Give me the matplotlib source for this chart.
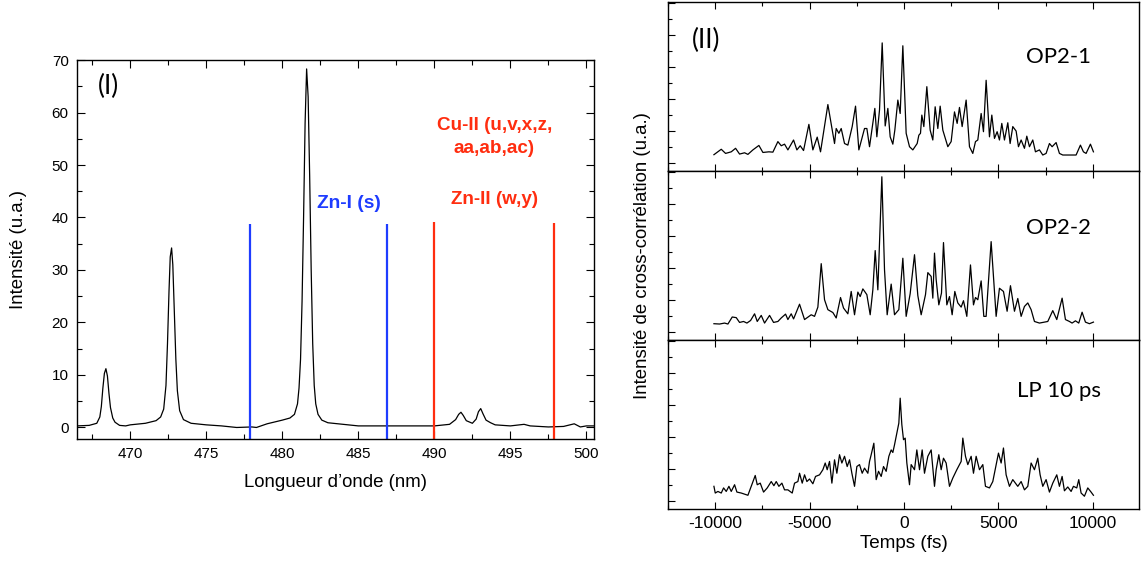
import numpy as np
import matplotlib
matplotlib.use("Agg")
import matplotlib.pyplot as plt
from matplotlib.ticker import MultipleLocator

plt.rcParams['font.family'] = ['Liberation Sans', 'DejaVu Sans']
plt.rcParams['axes.unicode_minus'] = False

# --- (I) emission spectrum ---
wl = [466.5, 467.3, 467.8, 468.0, 468.1, 468.2, 468.3, 468.4, 468.5, 468.6,
      468.7, 468.85, 469.0, 469.3, 469.7, 470.0, 471.0, 471.7, 472.0, 472.2,
      472.35, 472.45, 472.55, 472.63, 472.72, 472.8, 472.9, 473.0, 473.1, 473.25,
      473.5, 474.0, 475.0, 476.0, 477.0, 478.0, 478.3, 479.0, 480.0, 480.5,
      480.8, 481.0, 481.1, 481.2, 481.3, 481.4, 481.5, 481.6, 481.7, 481.8,
      481.9, 482.0, 482.1, 482.2, 482.35, 482.6, 483.0, 484.0, 485.0, 487.0,
      488.0, 490.0, 491.0, 491.4, 491.6, 491.75, 491.9, 492.1, 492.5, 492.75,
      492.9, 493.05, 493.2, 493.4, 493.7, 494.0, 495.0, 495.9, 496.3, 497.5,
      498.5, 499.2, 499.6, 500.0, 500.5]
inten = [0.3, 0.4, 0.8, 2.0, 4.0, 7.5, 10.3, 11.2, 9.8, 6.5,
         3.8, 1.8, 1.0, 0.4, 0.3, 0.5, 0.8, 1.3, 2.0, 3.5,
         8.0, 16.0, 26.0, 32.5, 34.2, 31.0, 22.0, 13.0, 7.0, 3.2,
         1.5, 0.8, 0.5, 0.3, 0.0, 0.1, 0.0, 0.7, 1.4, 1.8,
         2.5, 4.5, 7.5, 13.0, 24.0, 40.0, 58.0, 68.3, 63.0, 48.0,
         30.0, 16.0, 8.0, 4.5, 2.5, 1.4, 0.9, 0.6, 0.3, 0.3,
         0.3, 0.3, 0.6, 1.5, 2.5, 2.9, 2.3, 1.3, 0.8, 1.6,
         3.0, 3.6, 2.6, 1.4, 0.9, 0.5, 0.3, 0.6, 0.3, 0.1,
         0.2, 0.7, 0.1, 0.3, 0.3]

zn1_lines = [477.9, 486.9]
zn1_tops = [38.8, 38.8]
cu_lines = [490.0, 497.9]
cu_tops = [39.2, 39.0]

# --- (II) cross-correlation traces ---
t1 = [-10070, -9682, -9453, -9153, -8923, -8712, -8447, -8270, -8006, -7688,
      -7476, -7158, -6947, -6682, -6505, -6329, -6152, -5852, -5676, -5499,
      -5323, -5040, -4829, -4599, -4423, -4034, -3681, -3593, -3452, -3328,
      -3152, -2975, -2746, -2569, -2393, -2093, -1969, -1828, -1616, -1546,
      -1440, -1299, -1157, -998, -857, -734, -593, -487, -328, -204,
      -63, 113, 290, 466, 696, 784, 872, 943, 1049, 1208,
      1384, 1525, 1649, 1790, 1914, 2055, 2320, 2496, 2673, 2814,
      2937, 3079, 3290, 3467, 3643, 3785, 3908, 4085, 4208, 4349,
      4526, 4650, 4791, 4932, 5055, 5179, 5320, 5497, 5620, 5761,
      5938, 6062, 6203, 6379, 6503, 6644, 6820, 6962, 7173, 7350,
      7526, 7703, 7844, 8056, 8232, 8409, 8762, 9115, 9344, 9503,
      9644, 9874, 10033]
y1 = [0.25, 0.42, 0.29, 0.34, 0.45, 0.27, 0.31, 0.26, 0.40, 0.54,
      0.32, 0.34, 0.33, 0.66, 0.53, 0.58, 0.40, 0.71, 0.40, 0.53,
      0.38, 1.20, 0.40, 0.80, 0.34, 1.82, 0.60, 1.07, 0.92, 1.07,
      0.60, 0.55, 1.13, 1.77, 0.40, 1.07, 1.07, 0.50, 1.39, 1.70,
      0.81, 1.65, 3.75, 1.15, 1.70, 0.81, 0.58, 1.02, 1.96, 1.54,
      3.66, 0.92, 0.50, 0.40, 0.60, 0.86, 0.92, 1.49, 1.13, 2.38,
      1.02, 0.71, 1.75, 1.07, 1.77, 1.02, 0.50, 0.66, 1.59, 1.23,
      1.73, 1.13, 1.96, 0.50, 0.29, 0.66, 0.71, 1.54, 0.97, 2.58,
      0.81, 1.49, 0.76, 0.97, 0.71, 1.23, 0.71, 1.25, 0.60, 1.13,
      0.99, 0.50, 0.71, 0.45, 0.83, 0.50, 0.71, 0.34, 0.40, 0.24,
      0.29, 0.60, 0.50, 0.63, 0.29, 0.24, 0.24, 0.24, 0.55, 0.34,
      0.29, 0.58, 0.34]

t2 = [-10070, -9770, -9506, -9329, -9100, -8888, -8712, -8500, -8323, -8129,
      -7917, -7776, -7564, -7388, -7123, -6911, -6682, -6505, -6276, -6152,
      -5976, -5852, -5535, -5270, -4917, -4740, -4564, -4387, -4211, -4034,
      -3770, -3593, -3364, -3205, -2975, -2799, -2622, -2446, -2322, -2181,
      -1969, -1793, -1652, -1528, -1387, -1175, -1034, -893, -681, -504,
      -275, -63, 113, 325, 555, 731, 908, 1137, 1261, 1437,
      1525, 1614, 1702, 1843, 1984, 2090, 2267, 2408, 2549, 2690,
      2849, 3026, 3149, 3326, 3520, 3679, 3785, 3908, 4085, 4226,
      4349, 4614, 4879, 5055, 5267, 5461, 5638, 5850, 6026, 6203,
      6379, 6556, 6732, 6909, 7173, 7615, 7879, 8091, 8374, 8550,
      8762, 8903, 9080, 9256, 9433, 9609, 9821, 10033]
y2 = [0.25, 0.24, 0.27, 0.24, 0.46, 0.44, 0.29, 0.32, 0.27, 0.35,
      0.56, 0.32, 0.51, 0.27, 0.51, 0.29, 0.32, 0.43, 0.55, 0.38,
      0.56, 0.40, 0.86, 0.38, 0.53, 0.48, 0.77, 2.13, 1.00, 0.69,
      0.60, 0.43, 1.07, 0.74, 0.56, 1.26, 0.53, 1.24, 1.10, 1.34,
      1.16, 0.53, 1.31, 2.54, 1.31, 4.85, 1.94, 0.53, 1.49, 0.53,
      0.69, 2.30, 0.48, 1.19, 2.41, 1.13, 0.53, 1.16, 1.85, 1.73,
      1.05, 2.46, 1.63, 0.84, 1.21, 2.79, 0.84, 1.10, 0.53, 1.26,
      0.90, 0.77, 0.97, 0.48, 2.09, 0.84, 1.07, 1.00, 1.59, 0.48,
      0.48, 2.82, 0.48, 1.36, 1.26, 0.64, 1.44, 0.64, 1.04, 0.48,
      0.79, 0.90, 0.69, 0.32, 0.27, 0.32, 0.66, 0.38, 1.05, 0.38,
      0.32, 0.27, 0.34, 0.27, 0.61, 0.30, 0.25, 0.30]

t3 = [-10070, -10000, -9859, -9682, -9559, -9418, -9276, -9153, -8976, -8853,
      -8623, -8270, -8094, -7882, -7776, -7617, -7441, -7247, -7035, -6894,
      -6770, -6629, -6470, -6329, -6152, -5923, -5799, -5623, -5535, -5393,
      -5270, -5146, -5005, -4829, -4687, -4476, -4299, -4175, -4070, -3946,
      -3822, -3681, -3558, -3417, -3293, -3152, -3011, -2887, -2763, -2622,
      -2499, -2358, -2216, -2093, -1916, -1828, -1740, -1599, -1475, -1351,
      -1210, -1087, -946, -804, -681, -593, -504, -381, -275, -204,
      -116, -28, 61, 149, 290, 378, 555, 678, 820, 961,
      1084, 1261, 1437, 1614, 1702, 1843, 1967, 2090, 2231, 2408,
      2584, 2796, 3026, 3114, 3255, 3379, 3555, 3679, 3820, 3996,
      4173, 4314, 4526, 4702, 4844, 5003, 5144, 5267, 5408, 5585,
      5761, 6026, 6203, 6379, 6556, 6732, 6909, 7085, 7209, 7350,
      7526, 7703, 7879, 8091, 8232, 8374, 8497, 8674, 8850, 8974,
      9150, 9256, 9380, 9556, 9733, 9909, 10033]
y3 = [0.45, 0.24, 0.29, 0.24, 0.40, 0.29, 0.45, 0.29, 0.50, 0.27,
      0.24, 0.17, 0.45, 0.79, 0.50, 0.55, 0.27, 0.40, 0.60, 0.47,
      0.60, 0.45, 0.55, 0.34, 0.34, 0.24, 0.55, 0.60, 0.86, 0.55,
      0.81, 0.60, 0.68, 0.53, 0.76, 0.81, 0.97, 1.18, 0.97, 1.23,
      0.55, 1.28, 0.86, 1.44, 1.18, 1.39, 1.07, 1.28, 0.86, 0.45,
      1.07, 1.13, 0.86, 1.02, 0.86, 1.23, 1.44, 1.80, 0.66, 0.92,
      0.76, 1.07, 0.92, 1.39, 1.59, 1.51, 1.75, 2.11, 2.43, 3.21,
      2.38, 1.91, 1.96, 1.18, 0.50, 1.13, 0.97, 1.59, 0.97, 1.59,
      0.86, 1.39, 1.59, 0.45, 0.97, 1.44, 0.97, 1.33, 1.18, 0.45,
      0.71, 0.97, 1.23, 1.96, 1.39, 1.13, 1.39, 0.86, 1.39, 0.97,
      1.13, 0.45, 0.40, 0.60, 1.02, 1.49, 1.18, 1.65, 0.81, 0.45,
      0.66, 0.45, 0.60, 0.34, 0.45, 1.18, 0.97, 1.33, 0.81, 0.45,
      0.66, 0.27, 0.55, 0.81, 0.45, 0.76, 0.31, 0.43, 0.29, 0.45,
      0.40, 0.66, 0.24, 0.14, 0.40, 0.27, 0.17]

traces = [(t1, y1, 'OP2-1'), (t2, y2, 'OP2-2'), (t3, y3, 'LP 10 ps')]
name_y = [0.675, 0.66, 0.70]

blue = '#1e3cff'
red = '#ff2d0f'

fig = plt.figure(figsize=(11.41, 5.63), dpi=100)

# left panel
ax = fig.add_axes([0.0675, 0.2202, 0.4531, 0.6732])
ax.plot(wl, inten, color='black', lw=0.9)
ax.vlines(zn1_lines, -2.2, zn1_tops, color=blue, lw=1.6)
ax.vlines(cu_lines, -2.2, cu_tops, color=red, lw=1.6)
ax.set_xlim(466.5, 500.5)
ax.set_ylim(-2.2, 70)
ax.xaxis.set_major_locator(MultipleLocator(5))
ax.xaxis.set_minor_locator(MultipleLocator(2.5))
ax.yaxis.set_major_locator(MultipleLocator(10))
ax.yaxis.set_minor_locator(MultipleLocator(5))
ax.tick_params(which='both', direction='in', top=True, right=True,
               labelsize=11, width=0.8)
ax.tick_params(which='major', length=6, pad=6)
ax.tick_params(which='minor', length=3.5)
for s in ax.spines.values():
    s.set_linewidth(1.0)
ax.set_xlabel("Longueur d\u2019onde (nm)", fontsize=13.4, labelpad=9)
ax.set_ylabel("Intensit\u00e9 (u.a.)", fontsize=13.4, labelpad=18)
ax.text(0.04, 0.93, '(I)', transform=ax.transAxes, fontsize=19,
        family=['Lato', 'DejaVu Sans'], va='center')
ax.text(486.9 - 2.5, 42.6, 'Zn-I (s)', color=blue, fontsize=13.8,
        fontweight='bold', ha='center', va='center')
ax.text(493.95, 55.3, 'Cu-II (u,v,x,z,\naa,ab,ac)', color=red, fontsize=13.6,
        fontweight='bold', ha='center', va='center', linespacing=1.45)
ax.text(493.95, 43.4, 'Zn-II (w,y)', color=red, fontsize=13.6,
        fontweight='bold', ha='center', va='center')

# right panels
tops = [0.6963, 0.3961, 0.0959]
axes_r = []
for i, (tt, yy, name) in enumerate(traces):
    a = fig.add_axes([0.5855, tops[i], 0.4128, 0.3001])
    a.plot(tt, yy, color='black', lw=0.9)
    a.set_xlim(-12500, 12450)
    a.set_ylim(-0.26, 5.03)
    a.xaxis.set_major_locator(MultipleLocator(5000))
    a.xaxis.set_minor_locator(MultipleLocator(2500))
    a.yaxis.set_major_locator(MultipleLocator(1))
    a.yaxis.set_minor_locator(MultipleLocator(0.5))
    a.tick_params(which='both', direction='in', top=True, right=False,
                  labelleft=False, labelsize=12.5, width=0.8)
    a.tick_params(which='major', length=5, pad=5)
    a.tick_params(which='minor', length=3)
    if i < 2:
        a.tick_params(labelbottom=False)
    for s in a.spines.values():
        s.set_linewidth(1.0)
    a.text(0.83, name_y[i], name, transform=a.transAxes, fontsize=16,
           family=['Lato', 'DejaVu Sans'], ha='center', va='center')
    axes_r.append(a)

axes_r[0].text(0.05, 0.775, '(II)', transform=axes_r[0].transAxes,
               fontsize=19, family=['Lato', 'DejaVu Sans'], va='center')
axes_r[2].set_xlabel('Temps (fs)', fontsize=13.6, labelpad=3)
fig.text(0.5635, 0.546, 'Intensit\u00e9 de cross-corr\u00e9lation (u.a.)',
         rotation=90, fontsize=13.4, ha='center', va='center')

fig.savefig('out.png', dpi=100)
